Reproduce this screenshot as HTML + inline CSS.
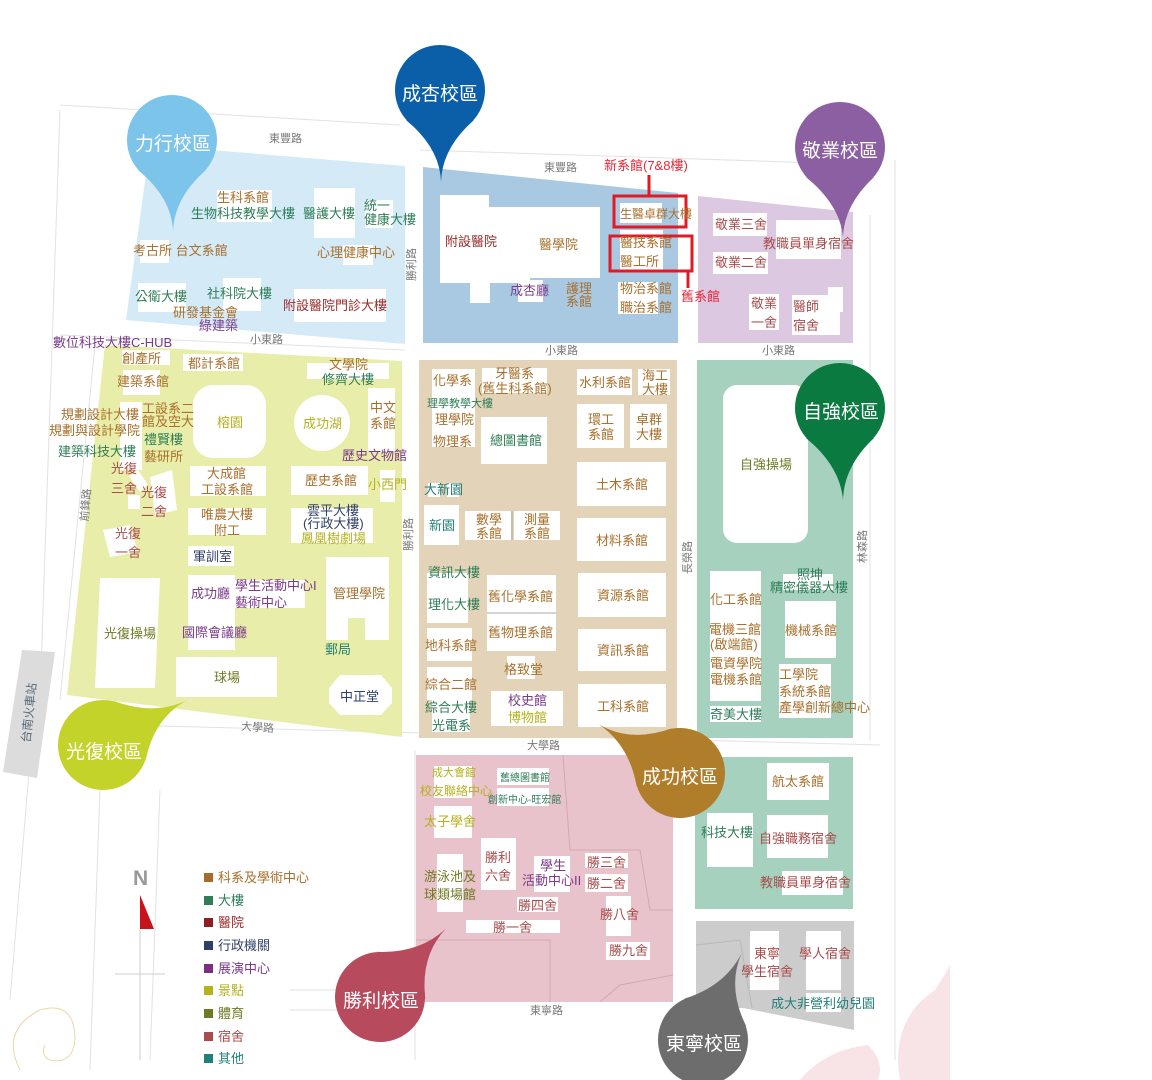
<!DOCTYPE html>
<html><head><meta charset="utf-8">
<style>
html,body{margin:0;padding:0;background:#fff;}
#m{position:relative;width:1152px;height:1080px;overflow:hidden;font-family:"Liberation Sans","Noto Sans CJK TC",sans-serif;}
svg{position:absolute;left:0;top:0;}
.l{position:absolute;white-space:nowrap;font-size:13px;line-height:15px;}
.b{color:#a8702c}.g{color:#2e7d57}.r{color:#9b2a2a}.n{color:#2f3f66}.p{color:#7b3a8a}.y{color:#b5b21e}.o{color:#6f7a22}.d{color:#a94c4c}.t{color:#1f7f7a}
.rd{position:absolute;white-space:nowrap;font-size:11px;color:#777;line-height:13px;}
.v{transform:rotate(-90deg);transform-origin:left top;}
.pin{position:absolute;color:#fff;font-size:19px;white-space:nowrap;}
.lg{position:absolute;left:204px;font-size:13px;white-space:nowrap;}
.lg i{display:inline-block;width:9px;height:9px;margin-right:5px;}
</style></head><body><div id="m">
<svg width="1152" height="1080" viewBox="0 0 1152 1080">
<g stroke="#e2e2e2" stroke-width="1" fill="none">
<path d="M60,105 L400,125"/><path d="M60,335 L405,350"/><path d="M420,150 L880,165"/>
<path d="M895,160 L895,1060"/><path d="M870,215 L870,740"/><path d="M120,725 L880,745"/>
<path d="M415,750 L415,1060"/><path d="M60,110 L40,700"/><path d="M95,345 L60,700"/>
<path d="M30,760 L10,1000"/><path d="M100,790 L90,1070"/><path d="M160,790 L150,1060"/>
<path d="M290,990 L420,990"/><path d="M290,1010 L420,1010"/>
</g>
<polygon points="150,145 405,166 405,344 126,320" fill="#d4eaf7"/>
<polygon points="423,167 678,193 678,343 423,343" fill="#a9c9e3"/>
<polygon points="698,196 853,212 853,343 698,343" fill="#dcc8e0"/>
<polygon points="105,345 402,361 402,737 67,695" fill="#e8eda9"/>
<rect x="419" y="360" width="258" height="378" fill="#e3d3b8"/>
<rect x="697" y="360" width="156" height="378" fill="#a5d1be"/>
<rect x="416" y="755" width="257" height="247" fill="#e8c3cb"/>
<rect x="695" y="757" width="158" height="152" fill="#a5d1be"/>
<polygon points="696,921 854,921 854,1030 743,1008 696,1008" fill="#cccccc"/>
<polygon points="22,650 55,652 37,778 3,772" fill="#dcdcdc"/>
<g stroke="#d2a8b1" fill="none" stroke-width="1"><path d="M563,755 L570,850 L640,850 L650,910 L673,910"/><path d="M416,940 L550,940 L550,1002"/><path d="M600,1002 L620,985 L673,975"/></g>
<g stroke="#b8b8b8" fill="none"><path d="M696,945 L740,940 L752,1008"/></g>
<g fill="#f8e3e6">
<path d="M900,1080 Q890,1020 935,990 Q945,975 950,965 L950,1080 Z"/>
<path d="M800,1080 Q825,1050 868,1045 Q885,1062 878,1080 Z"/>
</g>
<path d="M20,1070 Q0,1030 40,1010 Q75,1000 75,1040 Q72,1065 50,1060 Q40,1055 45,1045" stroke="#e8d9a8" fill="none"/>
<g fill="#fff">
<rect x="217" y="190" width="55" height="32"/><rect x="314" y="188" width="41" height="50"/><rect x="365" y="200" width="28" height="28"/>
<rect x="140" y="240" width="29" height="23"/><rect x="343" y="245" width="30" height="20"/><rect x="138" y="283" width="48" height="29"/>
<rect x="223" y="278" width="38" height="33"/><rect x="294" y="289" width="92" height="33"/>
<polygon points="440,195 489,195 489,207 600,207 600,278 530,278 530,283 490,283 490,303 470,303 470,283 440,283"/>
<rect x="518" y="280" width="25" height="22"/><rect x="620" y="203" width="42" height="20"/><rect x="620" y="230" width="43" height="40"/>
<rect x="618" y="282" width="40" height="32"/>
<rect x="713" y="213" width="54" height="23"/><rect x="776" y="220" width="65" height="39"/><rect x="713" y="252" width="55" height="22"/>
<rect x="749" y="294" width="30" height="36"/><rect x="792" y="295" width="48" height="40"/><rect x="828" y="287" width="15" height="25"/>
<rect x="122" y="350" width="48" height="15"/><rect x="183" y="354" width="60" height="17"/><rect x="123" y="370" width="37" height="25"/>
<rect x="307" y="363" width="82" height="16"/><rect x="193" y="385" width="73" height="73" rx="20"/><circle cx="322" cy="423" r="28"/>
<rect x="368" y="388" width="27" height="64"/><rect x="120" y="402" width="22" height="68"/>
<rect x="190" y="466" width="76" height="30"/><rect x="291" y="466" width="77" height="29"/><rect x="380" y="470" width="15" height="32"/>
<rect x="188" y="508" width="78" height="27"/><rect x="291" y="508" width="82" height="35"/><rect x="188" y="546" width="46" height="20"/>
<rect x="188" y="575" width="47" height="75"/><rect x="235" y="580" width="70" height="28"/>
<polygon points="326,557 389,557 389,640 365,640 365,618 348,618 348,640 326,640"/>
<polygon points="100,578 160,578 155,688 95,688"/><rect x="176" y="657" width="101" height="40"/>
<polygon points="340,675 381,675 392,688 392,703 381,715 340,715 329,703 329,688"/>
<polygon points="129,476 138,470 148,485 140,492"/><polygon points="150,477 172,470 177,510 155,515"/><polygon points="103,530 130,525 138,552 110,557"/>
<rect x="128" y="495" width="12" height="14"/>
<rect x="432" y="369" width="43" height="78"/><rect x="482" y="368" width="65" height="25"/><rect x="481" y="417" width="66" height="47"/>
<rect x="577" y="369" width="55" height="26"/><rect x="638" y="369" width="32" height="26"/><rect x="577" y="404" width="47" height="44"/>
<rect x="630" y="404" width="37" height="44"/><rect x="577" y="462" width="89" height="44"/><rect x="424" y="505" width="35" height="40"/>
<rect x="465" y="511" width="46" height="29"/><rect x="514" y="511" width="46" height="29"/><rect x="577" y="518" width="89" height="43"/>
<rect x="427" y="573" width="41" height="50"/><rect x="487" y="575" width="69" height="76"/><rect x="578" y="573" width="88" height="44"/>
<rect x="427" y="628" width="45" height="33"/><rect x="507" y="656" width="28" height="23"/><rect x="578" y="629" width="88" height="42"/>
<rect x="427" y="667" width="45" height="33"/><rect x="491" y="691" width="72" height="35"/><rect x="578" y="684" width="88" height="43"/>
<rect x="428" y="483" width="12" height="14"/><rect x="447" y="483" width="12" height="14"/><rect x="432" y="700" width="38" height="32"/>
<rect x="723" y="385" width="85" height="158" rx="14"/><rect x="710" y="571" width="51" height="130"/><rect x="710" y="706" width="51" height="16"/>
<rect x="783" y="574" width="50" height="16"/><rect x="785" y="601" width="51" height="57"/><rect x="779" y="664" width="52" height="54"/>
<rect x="434" y="766" width="38" height="32"/><rect x="497" y="768" width="52" height="17"/><rect x="497" y="788" width="52" height="18"/>
<rect x="434" y="806" width="38" height="32"/><rect x="481" y="838" width="35" height="52"/><rect x="437" y="854" width="26" height="58"/>
<rect x="534" y="856" width="36" height="36"/><rect x="585" y="853" width="43" height="15"/><rect x="585" y="874" width="43" height="18"/>
<rect x="517" y="897" width="41" height="15"/><rect x="606" y="896" width="25" height="40"/><rect x="466" y="920" width="94" height="13"/>
<rect x="606" y="942" width="44" height="18"/>
<rect x="767" y="763" width="62" height="37"/><rect x="707" y="813" width="46" height="54"/><rect x="767" y="815" width="61" height="43"/>
<rect x="782" y="871" width="61" height="24"/>
<rect x="750" y="931" width="29" height="59"/><rect x="806" y="931" width="35" height="59"/><rect x="806" y="993" width="35" height="19"/>
</g>
<g stroke="#aaa" stroke-width="1"><path d="M512,511 V540"/><path d="M487,613 H556"/></g>
<g stroke="#e01b24" stroke-width="3" fill="none">
<rect x="614" y="196" width="72" height="31"/><rect x="610" y="236" width="82" height="35"/>
<path d="M649,175 V196"/><path d="M688,271 V288"/></g>
<g fill="#7cc4ea" transform="translate(172,140)"><circle r="45"/><path d="M-34,30 Q0,58 1,92 Q2,58 34,30 Z"/></g>
<g fill="#0a5fa8" transform="translate(440,90)"><circle r="45"/><path d="M-34,30 Q0,58 1,92 Q2,58 34,30 Z"/></g>
<g fill="#8c5fa3" transform="translate(840,147)"><circle r="45"/><path d="M-34,30 Q0,58 3,90 Q4,58 34,30 Z"/></g>
<g fill="#0b7a40" transform="translate(840,408)"><circle r="45"/><path d="M-34,30 Q0,58 3,92 Q4,58 34,30 Z"/></g>
<g fill="#c3d32a" transform="translate(103,745) rotate(-118)"><circle r="45"/><path d="M-34,30 Q0,58 0,95 Q2,58 34,30 Z"/></g>
<g fill="#b07d2b" transform="translate(680,773) rotate(121)"><circle r="45"/><path d="M-34,30 Q0,58 0,95 Q2,58 34,30 Z"/></g>
<g fill="#b84a5e" transform="translate(380,997) rotate(-136)"><circle r="45"/><path d="M-34,30 Q0,58 0,95 Q2,58 34,30 Z"/></g>
<g fill="#6d6d6d" transform="translate(703,1040) rotate(-156)"><circle r="45"/><path d="M-34,30 Q0,58 0,95 Q2,58 34,30 Z"/></g>
<path d="M140,929 V1060 M115,974 H165" stroke="#ccc"/>
<polygon points="140,895 140,929 154,929" fill="#c8121c"/>
</svg>

<div class="pin" style="left:135px;top:129px">力行校區</div>
<div class="pin" style="left:402px;top:79px">成杏校區</div>
<div class="pin" style="left:802px;top:136px">敬業校區</div>
<div class="pin" style="left:803px;top:397px">自強校區</div>
<div class="pin" style="left:66px;top:737px">光復校區</div>
<div class="pin" style="left:642px;top:762px">成功校區</div>
<div class="pin" style="left:343px;top:986px">勝利校區</div>
<div class="pin" style="left:666px;top:1029px">東寧校區</div>

<div class="rd" style="left:269px;top:133px">東豐路</div>
<div class="rd" style="left:544px;top:162px">東豐路</div>
<div class="rd" style="left:250px;top:334px">小東路</div>
<div class="rd" style="left:545px;top:345px">小東路</div>
<div class="rd" style="left:762px;top:345px">小東路</div>
<div class="rd" style="left:241px;top:722px;transform:rotate(4deg)">大學路</div>
<div class="rd" style="left:527px;top:740px">大學路</div>
<div class="rd" style="left:530px;top:1005px">東寧路</div>
<div class="rd v" style="left:406px;top:281px">勝利路</div>
<div class="rd v" style="left:403px;top:551px">勝利路</div>
<div class="rd v" style="left:682px;top:574px">長榮路</div>
<div class="rd v" style="left:857px;top:563px">林森路</div>
<div class="rd" style="left:79px;top:521px;transform:rotate(-85deg);transform-origin:left top">前鋒路</div>
<div class="rd" style="left:20px;top:742px;transform:rotate(-84deg);transform-origin:left top;color:#5a6b7a;font-size:12px">台南火車站</div>

<div class="l b" style="left:217px;top:190px">生科系館</div>
<div class="l g" style="left:191px;top:206px">生物科技教學大樓</div>
<div class="l g" style="left:303px;top:206px">醫護大樓</div>
<div class="l g" style="left:364px;top:198px">統一</div>
<div class="l g" style="left:364px;top:212px">健康大樓</div>
<div class="l b" style="left:133px;top:243px">考古所 台文系館</div>
<div class="l b" style="left:317px;top:245px">心理健康中心</div>
<div class="l g" style="left:135px;top:289px">公衛大樓</div>
<div class="l g" style="left:207px;top:286px">社科院大樓</div>
<div class="l b" style="left:173px;top:305px">研發基金會</div>
<div class="l p" style="left:199px;top:318px">綠建築</div>
<div class="l r" style="left:283px;top:298px">附設醫院門診大樓</div>
<div class="l r" style="left:445px;top:234px">附設醫院</div>
<div class="l b" style="left:539px;top:237px">醫學院</div>
<div class="l p" style="left:510px;top:283px">成杏廳</div>
<div class="l b" style="left:566px;top:281px">護理</div>
<div class="l b" style="left:566px;top:294px">系館</div>
<div class="l b" style="left:620px;top:207px;font-size:12px">生醫卓群大樓</div>
<div class="l b" style="left:620px;top:235px">醫技系館</div>
<div class="l b" style="left:620px;top:254px">醫工所</div>
<div class="l b" style="left:620px;top:281px">物治系館</div>
<div class="l b" style="left:620px;top:300px">職治系館</div>
<div class="l" style="left:604px;top:158px;color:#e8283a">新系館(7&amp;8樓)</div>
<div class="l" style="left:681px;top:289px;color:#e8283a">舊系館</div>
<div class="l d" style="left:715px;top:217px">敬業三舍</div>
<div class="l d" style="left:763px;top:236px">教職員單身宿舍</div>
<div class="l d" style="left:715px;top:255px">敬業二舍</div>
<div class="l d" style="left:751px;top:296px">敬業</div>
<div class="l d" style="left:751px;top:315px">一舍</div>
<div class="l d" style="left:793px;top:299px">醫師</div>
<div class="l d" style="left:793px;top:318px">宿舍</div>
<div class="l p" style="left:53px;top:335px">數位科技大樓C-HUB</div>
<div class="l b" style="left:122px;top:351px">創產所</div>
<div class="l b" style="left:188px;top:356px">都計系館</div>
<div class="l b" style="left:117px;top:374px">建築系館</div>
<div class="l b" style="left:329px;top:357px">文學院</div>
<div class="l g" style="left:322px;top:372px">修齊大樓</div>
<div class="l y" style="left:217px;top:415px">榕園</div>
<div class="l y" style="left:303px;top:416px">成功湖</div>
<div class="l b" style="left:370px;top:400px">中文</div>
<div class="l b" style="left:370px;top:416px">系館</div>
<div class="l b" style="left:61px;top:407px">規劃設計大樓</div>
<div class="l b" style="left:49px;top:423px">規劃與設計學院</div>
<div class="l b" style="left:142px;top:401px">工設系二</div>
<div class="l b" style="left:142px;top:414px">館及空大</div>
<div class="l g" style="left:144px;top:432px">禮賢樓</div>
<div class="l g" style="left:58px;top:444px">建築科技大樓</div>
<div class="l b" style="left:144px;top:449px">藝研所</div>
<div class="l p" style="left:342px;top:448px">歷史文物館</div>
<div class="l d" style="left:111px;top:461px">光復</div>
<div class="l d" style="left:111px;top:481px">三舍</div>
<div class="l d" style="left:141px;top:485px">光復</div>
<div class="l d" style="left:141px;top:504px">二舍</div>
<div class="l d" style="left:115px;top:526px">光復</div>
<div class="l d" style="left:115px;top:545px">一舍</div>
<div class="l b" style="left:207px;top:466px">大成館</div>
<div class="l b" style="left:201px;top:482px">工設系館</div>
<div class="l b" style="left:305px;top:473px">歷史系館</div>
<div class="l y" style="left:368px;top:477px">小西門</div>
<div class="l b" style="left:201px;top:507px">唯農大樓</div>
<div class="l b" style="left:214px;top:523px">附工</div>
<div class="l n" style="left:307px;top:503px">雲平大樓</div>
<div class="l n" style="left:303px;top:516px">(行政大樓)</div>
<div class="l y" style="left:301px;top:531px">鳳凰樹劇場</div>
<div class="l n" style="left:193px;top:549px">軍訓室</div>
<div class="l p" style="left:191px;top:586px">成功廳</div>
<div class="l p" style="left:235px;top:578px">學生活動中心I</div>
<div class="l p" style="left:235px;top:595px">藝術中心</div>
<div class="l b" style="left:333px;top:586px">管理學院</div>
<div class="l o" style="left:104px;top:626px">光復操場</div>
<div class="l p" style="left:182px;top:625px">國際會議廳</div>
<div class="l t" style="left:325px;top:642px">郵局</div>
<div class="l o" style="left:214px;top:670px">球場</div>
<div class="l n" style="left:340px;top:689px">中正堂</div>
<div class="l b" style="left:433px;top:373px">化學系</div>
<div class="l b" style="left:495px;top:366px">牙醫系</div>
<div class="l b" style="left:478px;top:381px">(舊生科系館)</div>
<div class="l g" style="left:427px;top:397px;font-size:11px">理學教學大樓</div>
<div class="l b" style="left:435px;top:412px">理學院</div>
<div class="l b" style="left:433px;top:434px">物理系</div>
<div class="l g" style="left:490px;top:433px">總圖書館</div>
<div class="l b" style="left:579px;top:375px">水利系館</div>
<div class="l b" style="left:642px;top:368px">海工</div>
<div class="l b" style="left:642px;top:382px">大樓</div>
<div class="l b" style="left:588px;top:412px">環工</div>
<div class="l b" style="left:588px;top:427px">系館</div>
<div class="l b" style="left:636px;top:412px">卓群</div>
<div class="l b" style="left:636px;top:427px">大樓</div>
<div class="l t" style="left:424px;top:482px">大新園</div>
<div class="l b" style="left:596px;top:477px">土木系館</div>
<div class="l t" style="left:429px;top:518px">新園</div>
<div class="l b" style="left:476px;top:512px">數學</div>
<div class="l b" style="left:476px;top:526px">系館</div>
<div class="l b" style="left:524px;top:512px">測量</div>
<div class="l b" style="left:524px;top:526px">系館</div>
<div class="l b" style="left:596px;top:533px">材料系館</div>
<div class="l g" style="left:428px;top:565px">資訊大樓</div>
<div class="l g" style="left:428px;top:597px">理化大樓</div>
<div class="l b" style="left:488px;top:589px">舊化學系館</div>
<div class="l b" style="left:488px;top:625px">舊物理系館</div>
<div class="l b" style="left:597px;top:588px">資源系館</div>
<div class="l b" style="left:425px;top:638px">地科系館</div>
<div class="l b" style="left:504px;top:662px">格致堂</div>
<div class="l b" style="left:597px;top:643px">資訊系館</div>
<div class="l b" style="left:425px;top:677px">綜合二館</div>
<div class="l g" style="left:425px;top:700px">綜合大樓</div>
<div class="l g" style="left:432px;top:718px">光電系</div>
<div class="l p" style="left:508px;top:693px">校史館</div>
<div class="l y" style="left:508px;top:710px">博物館</div>
<div class="l b" style="left:597px;top:699px">工科系館</div>
<div class="l o" style="left:740px;top:457px">自強操場</div>
<div class="l b" style="left:710px;top:592px">化工系館</div>
<div class="l b" style="left:709px;top:622px">電機三館</div>
<div class="l b" style="left:710px;top:637px">(啟端館)</div>
<div class="l b" style="left:710px;top:656px">電資學院</div>
<div class="l b" style="left:710px;top:672px">電機系館</div>
<div class="l g" style="left:710px;top:707px">奇美大樓</div>
<div class="l g" style="left:797px;top:567px">照坤</div>
<div class="l g" style="left:770px;top:580px">精密儀器大樓</div>
<div class="l b" style="left:785px;top:623px">機械系館</div>
<div class="l b" style="left:779px;top:667px">工學院</div>
<div class="l b" style="left:779px;top:684px">系統系館</div>
<div class="l b" style="left:779px;top:700px">產學創新總中心</div>
<div class="l y" style="left:432px;top:766px;font-size:11px">成大會館</div>
<div class="l y" style="left:420px;top:784px;font-size:12px">校友聯絡中心</div>
<div class="l g" style="left:500px;top:771px;font-size:10px">舊總圖書館</div>
<div class="l g" style="left:488px;top:793px;font-size:10px">創新中心-旺宏館</div>
<div class="l y" style="left:424px;top:814px">太子學舍</div>
<div class="l d" style="left:485px;top:850px">勝利</div>
<div class="l d" style="left:485px;top:868px">六舍</div>
<div class="l o" style="left:424px;top:869px">游泳池及</div>
<div class="l o" style="left:424px;top:887px">球類場館</div>
<div class="l p" style="left:540px;top:858px">學生</div>
<div class="l p" style="left:522px;top:873px">活動中心II</div>
<div class="l d" style="left:587px;top:855px">勝三舍</div>
<div class="l d" style="left:587px;top:876px">勝二舍</div>
<div class="l d" style="left:518px;top:898px">勝四舍</div>
<div class="l d" style="left:600px;top:907px">勝八舍</div>
<div class="l d" style="left:493px;top:920px">勝一舍</div>
<div class="l d" style="left:609px;top:943px">勝九舍</div>
<div class="l b" style="left:772px;top:774px">航太系館</div>
<div class="l g" style="left:701px;top:825px">科技大樓</div>
<div class="l d" style="left:759px;top:831px">自強職務宿舍</div>
<div class="l d" style="left:760px;top:875px">教職員單身宿舍</div>
<div class="l d" style="left:754px;top:946px">東寧</div>
<div class="l d" style="left:741px;top:964px">學生宿舍</div>
<div class="l d" style="left:799px;top:946px">學人宿舍</div>
<div class="l t" style="left:771px;top:996px">成大非營利幼兒園</div>

<div style="position:absolute;left:133px;top:867px;font-size:21px;font-weight:bold;color:#999;font-family:'Liberation Sans',sans-serif">N</div>
<div class="lg b" style="top:867px"><i style="background:#a86c2a"></i>科系及學術中心</div>
<div class="lg g" style="top:890px"><i style="background:#2e7d57"></i>大樓</div>
<div class="lg r" style="top:912px"><i style="background:#8c1f24"></i>醫院</div>
<div class="lg n" style="top:935px"><i style="background:#2f3f66"></i>行政機關</div>
<div class="lg p" style="top:958px"><i style="background:#7b2f82"></i>展演中心</div>
<div class="lg y" style="top:980px"><i style="background:#b5b21e"></i>景點</div>
<div class="lg o" style="top:1003px"><i style="background:#6f7a22"></i>體育</div>
<div class="lg d" style="top:1026px"><i style="background:#a94c4c"></i>宿舍</div>
<div class="lg t" style="top:1048px"><i style="background:#1f7f7a"></i>其他</div>
</div></body></html>
